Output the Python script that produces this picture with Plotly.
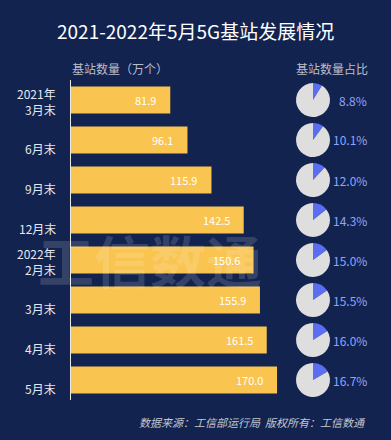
import plotly.graph_objects as go

categories = ["2021年<br>3月末", "6月末", "9月末", "12月末", "2022年<br>2月末", "3月末", "4月末", "5月末"]
stations = [81.9, 96.1, 115.9, 142.5, 150.6, 155.9, 161.5, 170.0]
share = [8.8, 10.1, 12.0, 14.3, 15.0, 15.5, 16.0, 16.7]

W, H = 391, 440
BG = "#13234f"
FONT = "Noto Sans CJK SC"
top_px, bot_px = 80, 400
row_h = (bot_px - top_px) / len(categories)
x0_px = 71
px_per_unit = 1.212

fig = go.Figure()
fig.add_trace(go.Bar(
    y=categories, x=stations, orientation="h",
    marker=dict(color="#f9c44f", line=dict(width=0)),
    hoverinfo="skip",
))

annotations = [
    dict(x=150 / W, y=1 - 258 / H, xref="paper", yref="paper", text="<b>工信数通</b>",
         showarrow=False, xanchor="center", yanchor="middle",
         font=dict(color="rgba(255,255,255,0.14)", size=56, family=FONT)),
]
for c, v in zip(categories, stations):
    annotations.append(dict(x=v, y=c, xref="x", yref="y", text=f"{v:.1f}",
                            showarrow=False, xanchor="right", xshift=-12,
                            font=dict(color="white", size=11, family=FONT)))
    annotations.append(dict(x=x0_px / W - 0.033, y=c, xref="paper", yref="y", text=c,
                            showarrow=False, xanchor="right", yanchor="middle",
                            align="right", yshift=-8 if "<br>" not in c else -1,
                            font=dict(color="#e6e8ee", size=12, family=FONT)))

for i, p in enumerate(share):
    cy = top_px + row_h * (i + 0.5)
    r = 17
    fig.add_trace(go.Pie(
        values=[p, 100 - p], marker=dict(colors=["#5b6ef2", "#dedede"], line=dict(width=0)),
        sort=False, direction="clockwise", rotation=0, textinfo="none",
        hoverinfo="skip", showlegend=False,
        domain=dict(x=[(313 - r) / W, (313 + r) / W], y=[1 - (cy + r) / H, 1 - (cy - r) / H]),
    ))
    annotations.append(dict(x=369 / W, y=1 - cy / H, xref="paper", yref="paper",
                            text=f"{p:.1f}%", showarrow=False, xanchor="right", yanchor="middle",
                            font=dict(color="#8fa4ff", size=12, family=FONT)))

annotations += [
    dict(x=0.5, y=1 - 31 / H, xref="paper", yref="paper", text="2021-2022年5月5G基站发展情况",
         showarrow=False, xanchor="center", yanchor="middle",
         font=dict(color="white", size=19, family=FONT)),
    dict(x=120 / W, y=1 - 68 / H, xref="paper", yref="paper", text="基站数量（万个）",
         showarrow=False, xanchor="center", yanchor="middle",
         font=dict(color="#b9bdca", size=12, family=FONT)),
    dict(x=332 / W, y=1 - 68 / H, xref="paper", yref="paper", text="基站数量占比",
         showarrow=False, xanchor="center", yanchor="middle",
         font=dict(color="#b9bdca", size=12, family=FONT)),
    dict(x=368 / W, y=1 - 422 / H, xref="paper", yref="paper",
         text="<i>数据来源：工信部运行局  版权所有：工信数通</i>",
         showarrow=False, xanchor="right", yanchor="middle",
         font=dict(color="#c3c6d0", size=11, family=FONT)),
]

fig.update_layout(
    width=W, height=H, margin=dict(l=0, r=0, t=0, b=0),
    paper_bgcolor=BG, plot_bgcolor="rgba(0,0,0,0)",
    showlegend=False, bargap=0.32,
    xaxis=dict(domain=[x0_px / W, 1], range=[0, (W - x0_px) / px_per_unit],
               visible=False, fixedrange=True),
    yaxis=dict(domain=[1 - bot_px / H, 1 - top_px / H], autorange="reversed",
               showticklabels=False, showgrid=False, zeroline=False,
               showline=True, linecolor="#e8e8e8", linewidth=1, ticks=""),
    annotations=annotations,
)

fig.write_html("out.html", config={"staticPlot": True},
               post_script="document.body.style.margin='0';document.body.style.background='" + BG + "';")
